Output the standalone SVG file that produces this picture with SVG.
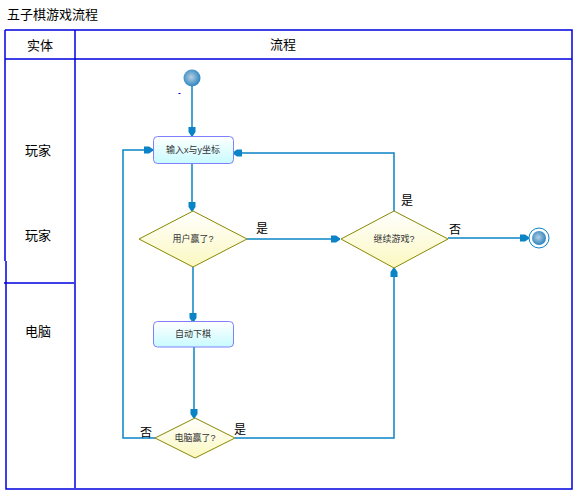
<svg xmlns="http://www.w3.org/2000/svg" width="579" height="493" viewBox="0 0 579 493">
<defs>
<style>
.frame{stroke:#0000e0;stroke-width:1.5;fill:none}
.lane{font-family:"Liberation Sans","Noto Sans CJK SC",sans-serif;font-size:13px;fill:#000}
.lbl{font-family:"Liberation Sans","Noto Sans CJK SC",sans-serif;font-size:12px;fill:#000}
.ntxt{font-family:"Liberation Sans","Noto Sans CJK SC",sans-serif;font-size:9px;fill:#333;text-anchor:middle;dominant-baseline:central}
.box{fill:url(#boxg);stroke:#8080ff;stroke-width:1}
.dia{fill:url(#diag);stroke:#888800;stroke-width:1}
.conn{fill:none;stroke:#0a84c6;stroke-width:1.5}
</style>
<linearGradient id="boxg" x1="0" y1="0" x2="0" y2="1">
<stop offset="0" stop-color="#ffffff"/>
<stop offset="1" stop-color="#c8fbff"/>
</linearGradient>
<linearGradient id="diag" x1="0" y1="0" x2="0" y2="1">
<stop offset="0" stop-color="#ffffff"/>
<stop offset="1" stop-color="#fbf8c0"/>
</linearGradient>
<radialGradient id="ballg" cx="0.45" cy="0.45" r="0.6">
<stop offset="0" stop-color="#b8cfe0"/>
<stop offset="1" stop-color="#1f7fbf"/>
</radialGradient>
<marker id="arr" markerUnits="userSpaceOnUse" markerWidth="12" markerHeight="10" viewBox="0 -5 10 10" refX="9" refY="0" orient="auto">
<path d="M0,-3.5 L5,-3.5 L9,-0.8 L9,0.8 L5,3.5 L0,3.5 Z" fill="#0a84c6"/>
</marker>
</defs>
<rect width="579" height="493" fill="#fff"/>
<text x="7" y="19" class="lane">五子棋游戏流程</text>
<g id="frame">
<path class="frame" d="M5,30 H572 V489 H6 V261 M5,261 V30 M5,59 H572 M75,30 V488 M4,283 H74"/>
<text x="40" y="50" class="lane" text-anchor="middle">实体</text>
<text x="283" y="49" class="lane" text-anchor="middle">流程</text>
<text x="38" y="155" class="lane" text-anchor="middle">玩家</text>
<text x="38" y="240" class="lane" text-anchor="middle">玩家</text>
<text x="38" y="336" class="lane" text-anchor="middle">电脑</text>
</g>
<g id="connectors">
<path class="conn" d="M192,86 V136" marker-end="url(#arr)"/>
<path class="conn" d="M192,163 V211" marker-end="url(#arr)"/>
<path class="conn" d="M247,239 H340" marker-end="url(#arr)"/>
<path class="conn" d="M394,211 V153 H233" marker-end="url(#arr)"/>
<path class="conn" d="M448,238 H529" marker-end="url(#arr)"/>
<path class="conn" d="M193,267 V322" marker-end="url(#arr)"/>
<path class="conn" d="M194,347 V418" marker-end="url(#arr)"/>
<path class="conn" d="M235,438 H394 V268" marker-end="url(#arr)"/>
<path class="conn" d="M155,438 H123 V150 H153" marker-end="url(#arr)"/>
<text x="256" y="233" class="lbl">是</text>
<text x="401" y="205" class="lbl">是</text>
<text x="449" y="234" class="lbl">否</text>
<text x="140" y="437" class="lbl">否</text>
<text x="234" y="434" class="lbl">是</text>
</g>
<g id="start">
<circle cx="192" cy="78" r="8.5" fill="url(#ballg)"/>
<rect x="178.5" y="93" width="2" height="1" fill="#0000cc"/>
</g>
<g id="input">
<rect class="box" x="153.5" y="136.5" width="80" height="27" rx="4"/>
<text x="193" y="150" class="ntxt">输入x与y坐标</text>
</g>
<g id="userwin">
<polygon class="dia" points="193,211 247,239 193,267 139,239"/>
<text x="193" y="239" class="ntxt">用户赢了?</text>
</g>
<g id="continue">
<polygon class="dia" points="394,211 448,239 394,268 341,239"/>
<text x="394" y="239" class="ntxt">继续游戏?</text>
</g>
<g id="end">
<circle cx="539" cy="238" r="10" fill="#fff" stroke="#0a84c6" stroke-width="1"/>
<circle cx="539" cy="238" r="7" fill="url(#ballg)"/>
</g>
<g id="auto">
<rect class="box" x="153.5" y="321.5" width="80" height="25.5" rx="4"/>
<text x="193" y="334" class="ntxt">自动下棋</text>
</g>
<g id="compwin">
<polygon class="dia" points="195,418 235,438 195,458 155,438"/>
<text x="195" y="438" class="ntxt">电脑赢了?</text>
</g>
</svg>
